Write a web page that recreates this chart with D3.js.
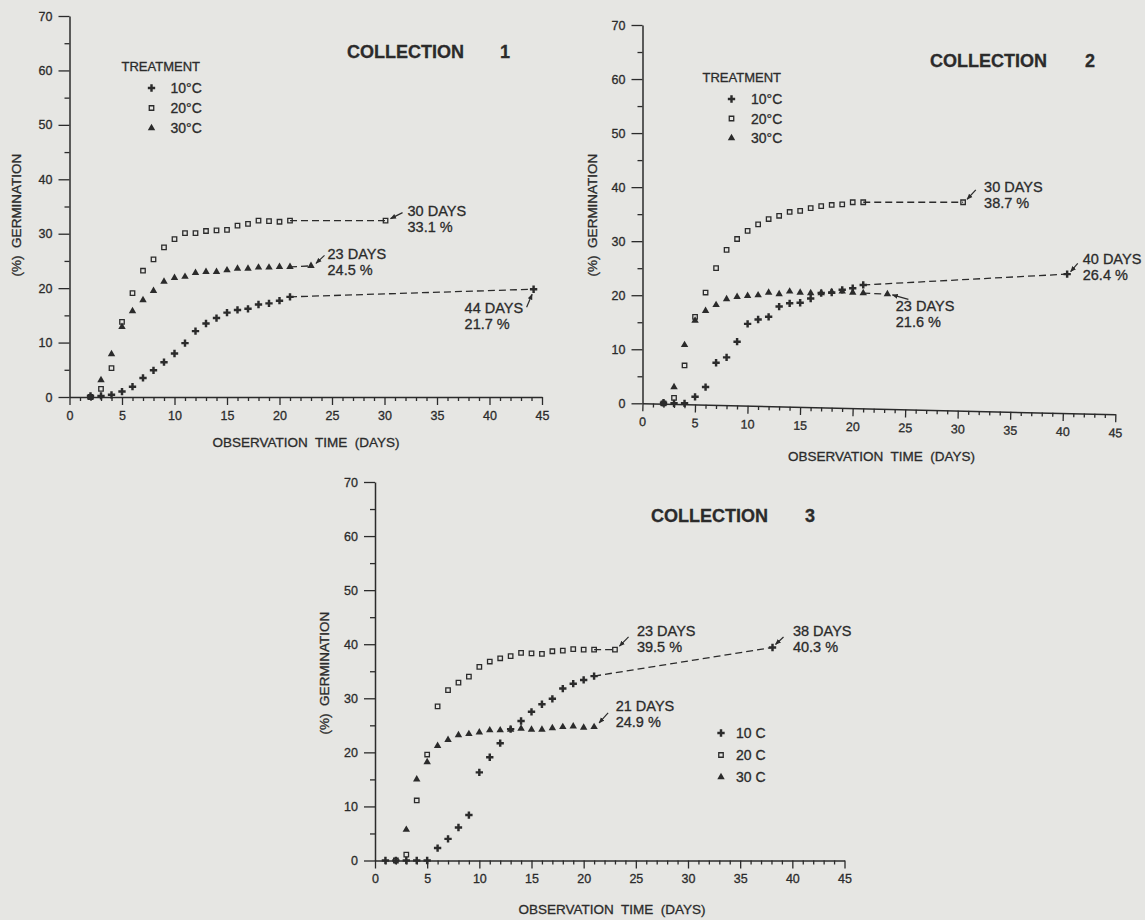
<!DOCTYPE html>
<html>
<head>
<meta charset="utf-8">
<script src="https://cdn.jsdelivr.net/npm/d3@7"></script>
<style>
body { margin: 0; background: #e6e6e3; }
svg { display: block; }
text { font-family: "Liberation Sans", Arial, sans-serif; fill: #2b2b2b; stroke: #2b2b2b; stroke-width: 0.3; }
</style>
</head>
<body>
<svg id="chart" width="1145" height="920"></svg>
<script>
// ---- data (day, % germination) ----
var yMajor = [0, 10, 20, 30, 40, 50, 60, 70];
var yMinor = [5, 15, 25, 35, 45, 55, 65];
var xMajor = [0, 5, 10, 15, 20, 25, 30, 35, 40, 45];
var xMinor = [1,2,3,4,6,7,8,9,11,12,13,14,16,17,18,19,21,22,23,24,26,27,28,29,31,32,33,34,36,37,38,39,41,42,43,44];

var treatments = ["10°C", "20°C", "30°C"];
var treatments3 = ["10 C", "20 C", "30 C"];

// collection 1
var c1Days10 = [2,3,4,5,6,7,8,9,10,11,12,13,14,15,16,17,18,19,20,21,44.2];
var c1Pct10  = [0.2,0.2,0.4,1.0,1.9,3.5,4.9,6.4,8.0,9.9,12.1,13.5,14.5,15.5,16.0,16.2,17.0,17.2,17.7,18.4,19.8];
var c1Days20 = [2,3,4,5,6,7,8,9,10,11,12,13,14,15,16,17,18,19,20,21,30.1];
var c1Pct20  = [0,1.5,5.3,13.8,19.1,23.2,25.3,27.5,29.0,30.1,30.1,30.5,30.6,30.7,31.5,31.8,32.4,32.3,32.2,32.4,32.4];
var c1Days30 = [2,3,4,5,6,7,8,9,10,11,12,13,14,15,16,17,18,19,20,21,23];
var c1Pct30  = [0,3.1,7.9,12.9,15.8,17.8,19.5,21.2,21.9,22.1,22.8,23.0,23.0,23.3,23.6,23.6,23.8,23.8,23.9,23.9,24.1];
var c1Notes  = [["44 DAYS", "21.7 %"], ["30 DAYS", "33.1 %"], ["23 DAYS", "24.5 %"]];

// collection 2
var c2Days10 = [2,3,4,5,6,7,8,9,10,11,12,13,14,15,16,17,18,19,20,21,40.4];
var c2Pct10  = [0.1,0,0,1.2,3.0,7.5,8.5,11.4,14.7,15.5,16.0,17.9,18.5,18.6,19.4,20.4,20.5,21.0,21.3,21.9,23.9];
var c2Days20 = [2,3,4,5,6,7,8,9,10,11,12,13,14,15,16,17,18,19,20,21,30.5];
var c2Pct20  = [0,1.0,7.0,16.0,20.5,25.0,28.4,30.4,31.9,33.1,34.1,34.7,35.4,35.6,36.1,36.5,36.7,36.8,37.2,37.2,37.2];
var c2Days30 = [2,3,4,5,6,7,8,9,10,11,12,13,14,15,16,17,18,19,20,21,23.3];
var c2Pct30  = [0,3.0,10.8,15.3,17.1,18.2,19.3,19.7,19.9,20.0,20.5,20.2,20.7,20.5,20.4,20.4,20.6,20.7,20.5,20.4,20.2];
var c2Notes  = [["40 DAYS", "26.4 %"], ["30 DAYS", "38.7 %"], ["23 DAYS", "21.6 %"]];

// collection 3
var c3Days10 = [1,2,3,4,5,6,7,8,9,10,11,12,13,14,15,16,17,18,19,20,21,38.1];
var c3Pct10  = [0,0,0,0,0,2.3,4.0,6.1,8.4,16.3,19.1,21.7,24.3,25.8,27.5,28.9,29.9,31.8,32.7,33.4,34.1,39.4];
var c3Days20 = [2,3,4,5,6,7,8,9,10,11,12,13,14,15,16,17,18,19,20,21,23];
var c3Pct20  = [0,1.1,11.1,19.6,28.5,31.5,32.9,34.0,35.8,36.8,37.4,37.8,38.4,38.3,38.2,38.7,38.8,39.1,39.0,39.0,39.0];
var c3Days30 = [3,4,5,6,7,8,9,10,11,12,13,14,15,16,17,18,19,20,21];
var c3Pct30  = [5.7,15.0,18.2,21.2,22.3,23.2,23.4,23.7,24.1,24.1,24.2,24.4,24.2,24.2,24.5,24.7,24.8,24.6,24.7];
var c3Notes  = [["38 DAYS", "40.3 %"], ["23 DAYS", "39.5 %"], ["21 DAYS", "24.9 %"]];

var ink = "#2b2b2b";
var svg = d3.select("#chart");

svg.append("defs").append("marker")
    .attr("id", "ah")
    .attr("viewBox", "0 0 10 10")
    .attr("refX", 9).attr("refY", 5)
    .attr("markerWidth", 5).attr("markerHeight", 5)
    .attr("orient", "auto")
    .append("path").attr("d", "M0,1L10,5L0,9Z").attr("fill", ink);

var symbols = [d3.symbol(d3.symbolCross).size(30), d3.symbol(d3.symbolSquare).size(20), d3.symbol(d3.symbolTriangle).size(24)];

function drawMarker(g, k, px, py) {
    var m = g.append("path")
        .attr("d", symbols[k]())
        .attr("transform", "translate(" + px + "," + py + ")");
    if (k == 1) m.attr("fill", "none").attr("stroke", ink).attr("stroke-width", 1.3);
    else m.attr("fill", ink);
}

function styleAxis(a) {
    a.selectAll(".domain").attr("stroke", ink).attr("stroke-width", 1.5);
    a.selectAll(".tick line").attr("stroke", ink).attr("stroke-width", 1.3);
    a.selectAll("text").attr("font-size", 12.5).attr("fill", ink)
        .attr("font-family", "Liberation Sans, Arial, sans-serif");
}

function drawPanel(p) {
    var g = svg.append("g");
    var x = d3.scaleLinear().domain([0, 45]).range([p.x0, p.x45]);
    var y = d3.scaleLinear().domain([0, 70]).range([p.y0, p.y70]);

    // y axis
    var ya = g.append("g").attr("transform", "translate(" + p.x0 + ",0)")
        .call(d3.axisLeft(y).tickValues(yMajor).tickSize(11).tickPadding(6).tickSizeOuter(0));
    styleAxis(ya);
    var ym = g.append("g").attr("transform", "translate(" + p.x0 + ",0)")
        .call(d3.axisLeft(y).tickValues(yMinor).tickSize(5).tickFormat("").tickSizeOuter(0));
    ym.select(".domain").remove();
    styleAxis(ym);

    // x axis (collection 2 axis runs slightly downhill in the original)
    var xt = "translate(0," + p.y0 + ") rotate(" + p.tilt + "," + p.x0 + ",0)";
    var xa = g.append("g").attr("transform", xt)
        .call(d3.axisBottom(x).tickValues(xMajor).tickSize(8).tickPadding(6).tickSizeOuter(0));
    styleAxis(xa);
    var xm = g.append("g").attr("transform", xt)
        .call(d3.axisBottom(x).tickValues(xMinor).tickSize(4).tickFormat("").tickSizeOuter(0));
    xm.select(".domain").remove();
    styleAxis(xm);

    // axis titles
    g.append("text").attr("x", p.xTitle[0]).attr("y", p.xTitle[1])
        .attr("text-anchor", "middle").attr("font-size", 13.5)
        .style("white-space", "pre").text("OBSERVATION  TIME  (DAYS)");
    g.append("text")
        .attr("transform", "translate(" + p.yTitle[0] + "," + p.yTitle[1] + ") rotate(-90)")
        .attr("text-anchor", "middle").attr("font-size", 13.5)
        .style("white-space", "pre").text("(%)  GERMINATION");

    // title
    g.append("text").attr("x", p.title[0]).attr("y", p.title[1])
        .attr("font-size", 18).attr("font-weight", "bold").text("COLLECTION");
    g.append("text").attr("x", p.title[2]).attr("y", p.title[1])
        .attr("font-size", 18).attr("font-weight", "bold").attr("text-anchor", "middle").text(p.num);

    // series
    p.series.forEach(function (s, k) {
        var n = s.days.length;
        var a = n - 2, b = n - 1;
        if (s.days[b] - s.days[a] > 1.5) {
            g.append("line")
                .attr("x1", x(s.days[a])).attr("y1", y(s.pct[a]))
                .attr("x2", x(s.days[b])).attr("y2", y(s.pct[b]))
                .attr("stroke", ink).attr("stroke-width", 1.3)
                .attr("stroke-dasharray", "7,4");
        }
        s.days.forEach(function (d, i) {
            drawMarker(g, k, x(d), y(s.pct[i]));
        });
    });

    // annotations on the last point of each series
    p.notes.forEach(function (nt, k) {
        var s = p.series[k];
        var px = x(s.days[s.days.length - 1]), py = y(s.pct[s.pct.length - 1]);
        var o = p.noteOffsets[k];
        g.append("text").attr("x", px + o.dx).attr("y", py + o.dy).attr("font-size", 14.5).text(nt[0]);
        g.append("text").attr("x", px + o.dx).attr("y", py + o.dy + 16).attr("font-size", 14.5).text(nt[1]);
        g.append("line")
            .attr("x1", px + o.tail[0]).attr("y1", py + o.tail[1])
            .attr("x2", px + o.head[0]).attr("y2", py + o.head[1])
            .attr("stroke", ink).attr("stroke-width", 1.2)
            .attr("marker-end", "url(#ah)");
    });

    // legend
    var L = p.legend;
    if (L.title) {
        g.append("text").attr("x", L.titleX).attr("y", L.titleY).attr("font-size", 13).text(L.title);
    }
    L.labels.forEach(function (lab, k) {
        var ry = L.rows[k];
        drawMarker(g, k, L.markerX, ry);
        g.append("text").attr("x", L.labelX).attr("y", ry + 5).attr("font-size", 14).text(lab);
    });
}

var panels = [
    {
        num: "1", x0: 69.5, x45: 542, y0: 397, y70: 16, tilt: 0,
        title: [347, 58, 505], xTitle: [306, 447], yTitle: [21, 215],
        series: [{days: c1Days10, pct: c1Pct10}, {days: c1Days20, pct: c1Pct20}, {days: c1Days30, pct: c1Pct30}],
        notes: c1Notes,
        noteOffsets: [
            {dx: -69, dy: 23.5, tail: [-7, 18], head: [-1.5, 5]},
            {dx: 22, dy: -4.5, tail: [17, -8], head: [5, -2]},
            {dx: 16.5, dy: -7, tail: [13.5, -10.5], head: [5, -2.5]}
        ],
        legend: {title: "TREATMENT", titleX: 121.5, titleY: 71, markerX: 151.5, labelX: 170.5, rows: [88, 108, 128], labels: treatments}
    },
    {
        num: "2", x0: 642.5, x45: 1115.5, y0: 403.3, y70: 25, tilt: 1.33,
        title: [930, 66.5, 1090], xTitle: [881.5, 461], yTitle: [597, 215],
        series: [{days: c2Days10, pct: c2Pct10}, {days: c2Days20, pct: c2Pct20}, {days: c2Days30, pct: c2Pct30}],
        notes: c2Notes,
        noteOffsets: [
            {dx: 15.6, dy: -10, tail: [10.6, -10.7], head: [3.5, -2.5]},
            {dx: 21, dy: -10, tail: [12.7, -12.3], head: [4, -3]},
            {dx: 8.4, dy: 17, tail: [21, 5.3], head: [5, 0.7]}
        ],
        legend: {title: "TREATMENT", titleX: 702.5, titleY: 81.5, markerX: 731.5, labelX: 751, rows: [99, 118.5, 138], labels: treatments}
    },
    {
        num: "3", x0: 375, x45: 844.5, y0: 860.5, y70: 482, tilt: 0,
        title: [651, 521.5, 810], xTitle: [612, 914], yTitle: [329, 673],
        series: [{days: c3Days10, pct: c3Pct10}, {days: c3Days20, pct: c3Pct20}, {days: c3Days30, pct: c3Pct30}],
        notes: c3Notes,
        noteOffsets: [
            {dx: 20.4, dy: -11.3, tail: [11, -10.5], head: [3, -3]},
            {dx: 22, dy: -13.4, tail: [13.6, -12.7], head: [4.5, -3.5]},
            {dx: 21.6, dy: -15.8, tail: [14, -14], head: [5, -4]}
        ],
        legend: {title: null, markerX: 721, labelX: 736, rows: [733, 755, 777], labels: treatments3}
    }
];

panels.forEach(drawPanel);
</script>
</body>
</html>
